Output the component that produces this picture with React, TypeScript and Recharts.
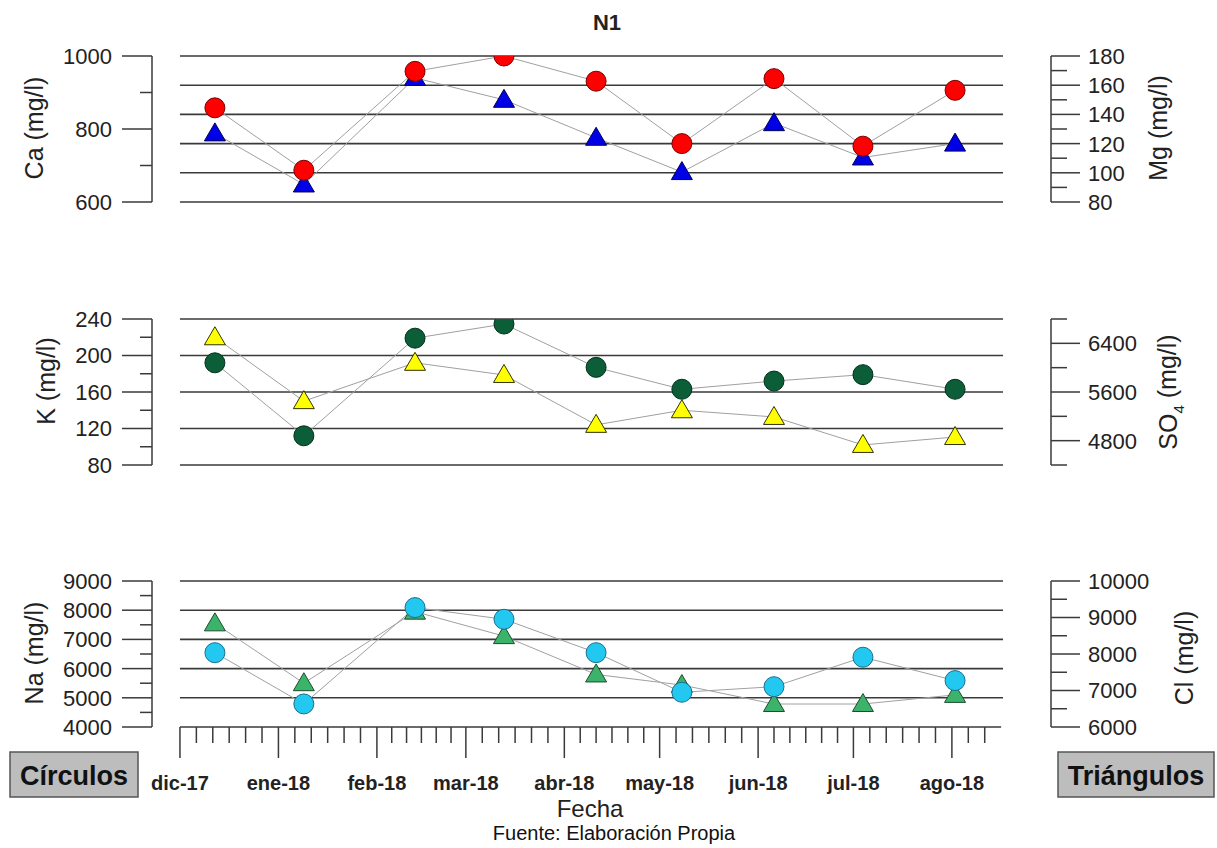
import React from "react";
import { LineChart, Line, XAxis, YAxis, ReferenceLine } from "recharts";

// sampling dates (one per campaign)
const sampleDates = [
  "2017-12-12", "2018-01-09", "2018-02-13", "2018-03-13", "2018-04-11",
  "2018-05-08", "2018-06-06", "2018-07-04", "2018-08-02",
];

// circles -> left axes, triangles -> right axes
const ca = [858, 687, 958, 1000, 931, 760, 938, 753, 906];
const mg = [127, 92, 165, 150, 124, 100.5, 134, 110.5, 120];
const k = [192, 112, 219, 234.5, 187, 163, 172, 179, 163];
const so4 = [6500, 5450, 6080, 5880, 5060, 5300, 5190, 4730, 4860];
const na = [6545, 4790, 8090, 7690, 6545, 5190, 5380, 6390, 5590];
const cl = [8840, 7200, 9160, 8490, 7440, 7150, 6630, 6630, 6880];

const monthStarts = [
  "2017-12-01", "2018-01-01", "2018-02-01", "2018-03-01", "2018-04-01",
  "2018-05-01", "2018-06-01", "2018-07-01", "2018-08-01",
];
const monthLabels = ["dic-17", "ene-18", "feb-18", "mar-18", "abr-18", "may-18", "jun-18", "jul-18", "ago-18"];

const caTicks = { major: [600, 800, 1000], minor: [700, 900] };
const mgTicks = { major: [80, 100, 120, 140, 160, 180], minor: [90, 110, 130, 150, 170] };
const kTicks = { major: [80, 120, 160, 200, 240], minor: [100, 140, 180, 220] };
const so4Ticks = { major: [4800, 5600, 6400], minor: [4400, 5200, 6000, 6800] };
const naTicks = { major: [4000, 5000, 6000, 7000, 8000, 9000], minor: [4500, 5500, 6500, 7500, 8500] };
const clTicks = { major: [6000, 7000, 8000, 9000, 10000], minor: [6500, 7500, 8500, 9500] };

const FONT = "'Liberation Sans', Arial, sans-serif";
const INK = "#3a3a3a";
const ORIGIN = Date.UTC(2017, 11, 1);
const toDay = (s: string) => {
  const [y, m, d] = s.split("-").map(Number);
  return (Date.UTC(y, m - 1, d) - ORIGIN) / 86400000;
};

const X_MIN = -8.8;
const X_MAX = 274.2;
const AXIS_END = 258.5;

const days = sampleDates.map(toDay);
const majorDays = monthStarts.map(toDay);
const minorDays: number[] = [];
for (let i = 0; i < majorDays.length; i++) {
  const step = i < majorDays.length - 1 ? (majorDays[i + 1] - majorDays[i]) / 6 : 31 / 6;
  const count = i < majorDays.length - 1 ? 5 : 2;
  for (let j = 1; j <= count; j++) minorDays.push(majorDays[i] + j * step);
}
const xTicks = [...majorDays, ...minorDays].sort((a, b) => a - b);

const rows = days.map((day, i) => ({
  day, ca: ca[i], mg: mg[i], k: k[i], so4: so4[i], na: na[i], cl: cl[i],
}));

const PLOT_H = 146;
const MT = 22;

type Marker = { fill: string; stroke: string };

const circleDot = (m: Marker) => (p: any) => (
  <circle key={`c${p.index}`} cx={p.cx} cy={p.cy} r={10} fill={m.fill} stroke={m.stroke} strokeWidth={1} />
);
const triangleDot = (m: Marker) => (p: any) => (
  <path
    key={`t${p.index}`}
    d={`M${p.cx},${p.cy - 10.5} L${p.cx + 10.5},${p.cy + 7.5} L${p.cx - 10.5},${p.cy + 7.5} Z`}
    fill={m.fill}
    stroke={m.stroke}
    strokeWidth={1}
  />
);

const leftTick = (major: number[]) => (p: any) => {
  const isMajor = major.includes(p.payload.value);
  return (
    <g>
      <line x1={p.x - (isMajor ? 30 : 12)} x2={p.x} y1={p.y} y2={p.y} stroke={INK} strokeWidth={1.5} />
      {isMajor && (
        <text x={p.x - 40} y={p.y} dy="0.36em" textAnchor="end" fontFamily={FONT} fontSize={22} fill="#222">
          {p.payload.value}
        </text>
      )}
    </g>
  );
};

const rightTick = (major: number[]) => (p: any) => {
  const isMajor = major.includes(p.payload.value);
  return (
    <g>
      <line x1={p.x} x2={p.x + (isMajor ? 29 : 16)} y1={p.y} y2={p.y} stroke={INK} strokeWidth={1.5} />
      {isMajor && (
        <text x={p.x + 37} y={p.y} dy="0.36em" textAnchor="start" fontFamily={FONT} fontSize={22} fill="#222">
          {p.payload.value}
        </text>
      )}
    </g>
  );
};

const xTick = (p: any) => {
  const idx = majorDays.indexOf(p.payload.value);
  const isMajor = idx >= 0;
  return (
    <g>
      <line x1={p.x} x2={p.x} y1={p.y} y2={p.y + (isMajor ? 31 : 16)} stroke={INK} strokeWidth={1.5} />
      {isMajor && (
        <text x={p.x} y={p.y + 56} dy="0.36em" textAnchor="middle" fontFamily={FONT} fontWeight="bold" fontSize={20} fill="#222">
          {monthLabels[idx]}
        </text>
      )}
    </g>
  );
};

type AxisSpec = { key: string; domain: [number, number]; ticks: { major: number[]; minor: number[] } };

function Panel(props: {
  top: number;
  left: AxisSpec;
  right: AxisSpec;
  gridOn: "L" | "R";
  circle: Marker;
  triangle: Marker;
  withX?: boolean;
}) {
  const { top, left, right, gridOn, circle, triangle, withX } = props;
  const xH = withX ? 80 : 0;
  const height = MT + PLOT_H + (withX ? xH : 22);
  const grid = gridOn === "L" ? left : right;
  return (
    <div style={{ position: "absolute", left: 0, top: top - MT }}>
      <LineChart
        width={1217}
        height={height}
        data={rows}
        margin={{ top: MT, right: 0, bottom: withX ? 0 : 22, left: 52 }}
      >
        <XAxis
          type="number"
          dataKey="day"
          domain={[X_MIN, X_MAX]}
          allowDataOverflow
          ticks={xTicks}
          interval={0}
          tickSize={0}
          tickMargin={0}
          axisLine={false}
          tickLine={false}
          tick={xTick}
          height={xH}
          hide={!withX}
        />
        <YAxis
          yAxisId="L"
          orientation="left"
          type="number"
          width={100}
          domain={left.domain}
          allowDataOverflow
          ticks={[...left.ticks.major, ...left.ticks.minor].sort((a, b) => a - b)}
          interval={0}
          tickSize={0}
          tickMargin={0}
          tickLine={false}
          axisLine={{ stroke: INK, strokeWidth: 1.5 }}
          tick={leftTick(left.ticks.major)}
        />
        <YAxis
          yAxisId="R"
          orientation="right"
          type="number"
          width={166}
          domain={right.domain}
          allowDataOverflow
          ticks={[...right.ticks.major, ...right.ticks.minor].sort((a, b) => a - b)}
          interval={0}
          tickSize={0}
          tickMargin={0}
          tickLine={false}
          axisLine={{ stroke: INK, strokeWidth: 1.5 }}
          tick={rightTick(right.ticks.major)}
        />
        {grid.ticks.major.map((v) => (
          <ReferenceLine
            key={v}
            yAxisId={gridOn}
            segment={[{ x: 0, y: v }, { x: withX && v === grid.domain[0] ? AXIS_END : AXIS_END + 0.6, y: v }]}
            stroke={INK}
            strokeWidth={1.6}
          />
        ))}
        <Line
          yAxisId="R"
          dataKey={right.key}
          type="linear"
          stroke="#a0a0a0"
          strokeWidth={1}
          dot={triangleDot(triangle)}
          activeDot={false}
          isAnimationActive={false}
        />
        <Line
          yAxisId="L"
          dataKey={left.key}
          type="linear"
          stroke="#a0a0a0"
          strokeWidth={1}
          dot={circleDot(circle)}
          activeDot={false}
          isAnimationActive={false}
        />
      </LineChart>
    </div>
  );
}

function VTitle({ x, y, children }: { x: number; y: number; children: React.ReactNode }) {
  return (
    <text
      transform={`translate(${x},${y}) rotate(-90)`}
      textAnchor="middle"
      dy="0.36em"
      fontFamily={FONT}
      fontSize={25}
      fill="#222"
    >
      {children}
    </text>
  );
}

export default function App() {
  return (
    <div style={{ position: "absolute", left: 0, top: 0, width: 1217, height: 848, background: "#fff" }}>
      <Panel
        top={55.7}
        left={{ key: "ca", domain: [600, 1000], ticks: caTicks }}
        right={{ key: "mg", domain: [80, 180], ticks: mgTicks }}
        gridOn="R"
        circle={{ fill: "#ff0000", stroke: "#7a0000" }}
        triangle={{ fill: "#0000e6", stroke: "#00005a" }}
      />
      <Panel
        top={319}
        left={{ key: "k", domain: [80, 240], ticks: kTicks }}
        right={{ key: "so4", domain: [4400, 6800], ticks: so4Ticks }}
        gridOn="L"
        circle={{ fill: "#0b5e38", stroke: "#03301a" }}
        triangle={{ fill: "#ffff00", stroke: "#333300" }}
      />
      <Panel
        top={581}
        left={{ key: "na", domain: [4000, 9000], ticks: naTicks }}
        right={{ key: "cl", domain: [6000, 10000], ticks: clTicks }}
        gridOn="L"
        circle={{ fill: "#22c8f0", stroke: "#1a6f8f" }}
        triangle={{ fill: "#3cb36b", stroke: "#1d4d2e" }}
        withX
      />
      <svg width={1217} height={848} style={{ position: "absolute", left: 0, top: 0, pointerEvents: "none" }}>
        <text x={607} y={22} dy="0.36em" textAnchor="middle" fontFamily={FONT} fontWeight="bold" fontSize={22} fill="#222">
          N1
        </text>
        <VTitle x={34} y={128}>Ca (mg/l)</VTitle>
        <VTitle x={1158} y={128}>Mg (mg/l)</VTitle>
        <VTitle x={46} y={381}>K (mg/l)</VTitle>
        <VTitle x={1168} y={392}>
          SO<tspan fontSize={15} dy="0.45em">4</tspan>
          <tspan dy="-0.3em"> (mg/l)</tspan>
        </VTitle>
        <VTitle x={34} y={653}>Na (mg/l)</VTitle>
        <VTitle x={1184} y={658}>Cl (mg/l)</VTitle>
        <text x={590} y={808} dy="0.36em" textAnchor="middle" fontFamily={FONT} fontSize={24} fill="#222">
          Fecha
        </text>
        <text x={614} y={833} dy="0.36em" textAnchor="middle" fontFamily={FONT} fontSize={20} fill="#111">
          Fuente: Elaboración Propia
        </text>
        <rect x={10} y={752} width={128} height={45} fill="#bdbdbd" stroke="#555" strokeWidth={1.5} />
        <text x={74} y={775} dy="0.36em" textAnchor="middle" fontFamily={FONT} fontWeight="bold" fontSize={27} fill="#111">
          Círculos
        </text>
        <rect x={1058} y={752} width={156} height={45} fill="#bdbdbd" stroke="#555" strokeWidth={1.5} />
        <text x={1136} y={775} dy="0.36em" textAnchor="middle" fontFamily={FONT} fontWeight="bold" fontSize={27} fill="#111">
          Triángulos
        </text>
      </svg>
    </div>
  );
}
